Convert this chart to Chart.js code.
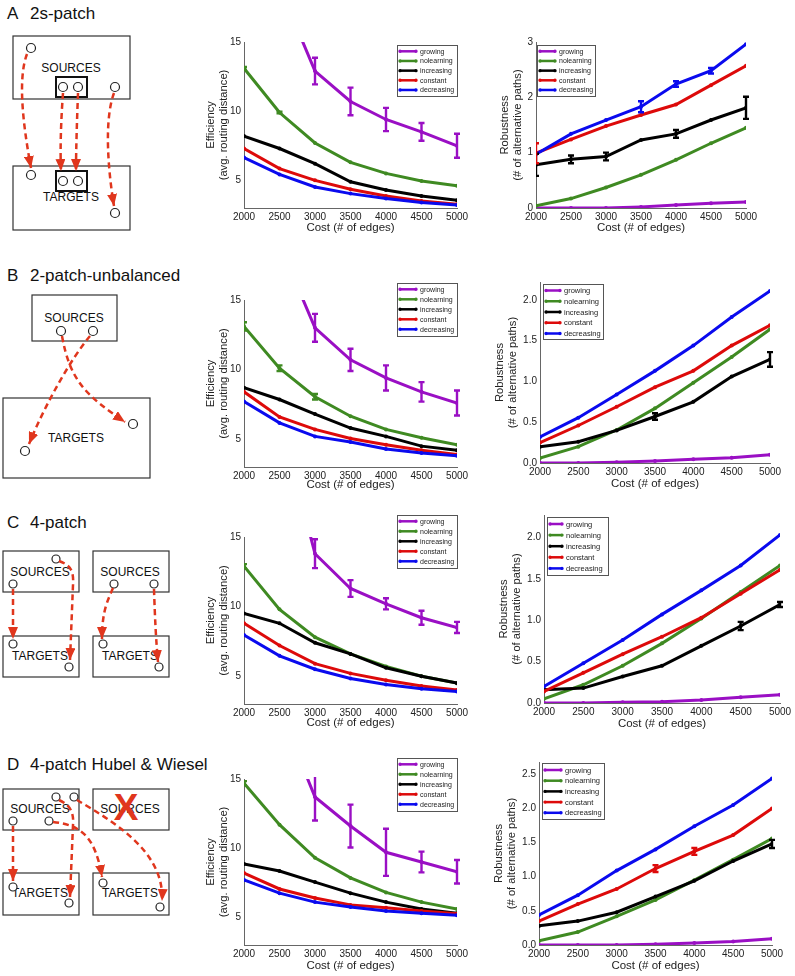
<!DOCTYPE html>
<html><head><meta charset="utf-8">
<script src="https://cdn.jsdelivr.net/npm/chart.js@4.4.1/dist/chart.umd.min.js"></script>
<style>
html,body{margin:0;padding:0;background:#fff;}
body{width:795px;height:976px;position:relative;overflow:hidden;font-family:"Liberation Sans",Arial,sans-serif;}
canvas{position:absolute;}
#diag{position:absolute;left:0;top:0;}
</style></head><body>
<svg id="diag" width="240" height="976" xmlns="http://www.w3.org/2000/svg" font-family="Liberation Sans, Arial, sans-serif">
<defs>
<marker id="ah" viewBox="0 0 12 10" refX="12" refY="5" markerWidth="12" markerHeight="10" markerUnits="userSpaceOnUse" orient="auto"><path d="M0,0 L12,5 L0,10 z" fill="#e0361d"/></marker>
</defs>
<g font-size="17" fill="#111"><text x="7" y="19">A</text><text x="30" y="19">2s-patch</text>
<text x="7" y="281">B</text><text x="30" y="281">2-patch-unbalanced</text>
<text x="7" y="528">C</text><text x="30" y="528">4-patch</text>
<text x="7" y="770">D</text><text x="30" y="770">4-patch Hubel &amp; Wiesel</text></g>
<g fill="none" stroke="#333" stroke-width="1.2">
<rect x="13" y="36" width="117" height="63"/><rect x="13" y="166" width="117" height="64"/>
<rect x="32" y="295" width="85" height="46"/><rect x="3" y="398" width="147" height="80"/>
<rect x="3" y="551" width="76" height="41"/><rect x="93" y="551" width="76" height="41"/>
<rect x="3" y="636" width="76" height="41"/><rect x="93" y="636" width="76" height="41"/>
<rect x="3" y="789" width="76" height="41"/><rect x="93" y="789" width="76" height="41"/>
<rect x="3" y="873" width="76" height="42"/><rect x="93" y="873" width="76" height="42"/>
</g>
<g fill="none" stroke="#111" stroke-width="2"><rect x="56" y="77" width="31" height="20"/><rect x="56" y="171" width="31" height="20"/></g>
<g font-size="12" fill="#111" text-anchor="middle">
<text x="71" y="72">SOURCES</text><text x="71" y="201">TARGETS</text>
<text x="74" y="322">SOURCES</text><text x="76" y="442">TARGETS</text>
<text x="40" y="576">SOURCES</text><text x="130" y="576">SOURCES</text>
<text x="40" y="660">TARGETS</text><text x="130" y="660">TARGETS</text>
<text x="40" y="813">SOURCES</text><text x="130" y="813">SOURCES</text>
<text x="40" y="897">TARGETS</text><text x="130" y="897">TARGETS</text>
</g>
<text x="126" y="820" font-size="37" font-weight="bold" fill="#e0361d" text-anchor="middle">X</text>
<g fill="#fff" stroke="#222" stroke-width="1.2">
<circle cx="31" cy="48" r="4.5"/><circle cx="63" cy="87" r="4.5"/><circle cx="78" cy="87" r="4.5"/><circle cx="115" cy="87" r="4.5"/>
<circle cx="31" cy="175" r="4.5"/><circle cx="63" cy="181" r="4.5"/><circle cx="78" cy="181" r="4.5"/><circle cx="115" cy="213" r="4.5"/>
<circle cx="61" cy="331" r="4.5"/><circle cx="93" cy="331" r="4.5"/><circle cx="25" cy="451" r="4.5"/><circle cx="133" cy="424" r="4.5"/>
<circle cx="56" cy="559" r="4"/><circle cx="13" cy="584" r="4"/><circle cx="13" cy="644" r="4"/><circle cx="69" cy="667" r="4"/>
<circle cx="114" cy="584" r="4"/><circle cx="154" cy="584" r="4"/><circle cx="103" cy="644" r="4"/><circle cx="159" cy="667" r="4"/>
<circle cx="56" cy="797" r="4"/><circle cx="74" cy="797" r="4"/><circle cx="13" cy="821" r="4"/><circle cx="49" cy="821" r="4"/>
<circle cx="13" cy="887" r="4"/><circle cx="69" cy="903" r="4"/><circle cx="103" cy="883" r="4"/><circle cx="160" cy="907" r="4"/>
</g>
<g fill="none" stroke="#e0361d" stroke-width="2.5" stroke-dasharray="6,4" marker-end="url(#ah)">
<path d="M27,54 C17,80 24,130 31,168"/><path d="M63,93 C61,120 60,150 61,171"/><path d="M78,93 C77,120 76,150 76,171"/><path d="M114,93 C104,120 108,170 114,206"/>
<path d="M62,336 C70,380 85,395 125,422"/><path d="M90,336 C70,360 45,405 29,444"/>
<path d="M13,589 L13,639"/><path d="M59,561 C70,565 74,570 73,585 L70,660"/><path d="M113,588 C108,600 102,610 102,639"/><path d="M154,589 C155,620 156,640 158,662"/>
<path d="M13,826 L13,881"/><path d="M59,800 C70,805 74,812 73,825 L70,897"/><path d="M53,822 C80,825 95,835 102,877"/><path d="M77,800 C110,820 165,850 162,901"/>
</g>
</svg>
<script>
// ---------------- data ----------------
const costs = [2000, 2500, 3000, 3500, 4000, 4500, 5000];
const seriesNames = ['growing', 'nolearning', 'increasing', 'constant', 'decreasing'];
const effTicks = [5, 10, 15];
const effTickLabels = ['5', '10', '15'];
const robTicksA = [0, 1, 2, 3];
const robTickLabelsA = ['0', '1', '2', '3'];
const robTicksBC = [0, 0.5, 1, 1.5, 2];
const robTickLabelsBC = ['0.0', '0.5', '1.0', '1.5', '2.0'];
const robTicksD = [0, 0.5, 1, 1.5, 2, 2.5];
const robTickLabelsD = ['0.0', '0.5', '1.0', '1.5', '2.0', '2.5'];

// rows: growing, nolearning, increasing, constant, decreasing
const effA = [
  [28, 19, 12.9, 10.7, 9.4, 8.5, 7.5],
  [13.1, 9.9, 7.7, 6.3, 5.5, 4.95, 4.6],
  [8.2, 7.3, 6.2, 4.9, 4.3, 3.87, 3.56],
  [7.3, 5.85, 5.0, 4.35, 3.87, 3.5, 3.27],
  [6.65, 5.43, 4.52, 4.04, 3.68, 3.4, 3.22]
];
const effA_err = [
  [0, 0, 0.96, 1.0, 0.84, 0.64, 0.87],
  [0.1, 0.06, 0, 0, 0, 0, 0],
  [0, 0, 0, 0, 0, 0, 0],
  [0, 0, 0, 0, 0, 0, 0],
  [0, 0, 0, 0, 0, 0, 0]
];
const robA = [
  [0, 0, 0, 0.02, 0.054, 0.085, 0.11],
  [0.04, 0.17, 0.37, 0.6, 0.87, 1.17, 1.45],
  [0.78, 0.88, 0.93, 1.23, 1.34, 1.59, 1.81],
  [0.99, 1.24, 1.48, 1.68, 1.87, 2.22, 2.57],
  [0.97, 1.34, 1.59, 1.83, 2.24, 2.48, 2.96]
];
const robA_err = [
  [0, 0, 0, 0, 0, 0, 0],
  [0, 0, 0, 0, 0, 0, 0],
  [0.2, 0.07, 0.07, 0, 0.07, 0, 0.2],
  [0.18, 0, 0, 0, 0, 0, 0],
  [0, 0, 0, 0.1, 0.05, 0.05, 0]
];
const effB = [
  [28, 19, 13.0, 10.7, 9.4, 8.4, 7.6],
  [13.1, 10.1, 8.05, 6.65, 5.7, 5.1, 4.6],
  [8.7, 7.85, 6.8, 5.8, 5.2, 4.5, 4.2],
  [8.4, 6.6, 5.7, 5.05, 4.6, 4.2, 3.9],
  [7.7, 6.17, 5.2, 4.8, 4.3, 4.0, 3.8]
];
const effB_err = [
  [0, 0, 1.0, 0.8, 0.9, 0.7, 0.9],
  [0.3, 0.2, 0.2, 0, 0, 0, 0],
  [0, 0, 0, 0, 0, 0, 0],
  [0, 0, 0, 0, 0, 0, 0],
  [0, 0, 0, 0, 0, 0, 0]
];
const robB = [
  [0, 0, 0.01, 0.025, 0.045, 0.065, 0.1],
  [0.06, 0.2, 0.405, 0.67, 0.985, 1.3, 1.64],
  [0.2, 0.26, 0.4, 0.57, 0.75, 1.06, 1.27],
  [0.25, 0.46, 0.69, 0.93, 1.13, 1.44, 1.69],
  [0.32, 0.556, 0.84, 1.13, 1.44, 1.79, 2.11]
];
const robB_err = [
  [0, 0, 0, 0, 0, 0, 0],
  [0, 0, 0, 0, 0, 0, 0],
  [0, 0, 0, 0.04, 0, 0, 0.09],
  [0, 0, 0, 0, 0, 0, 0],
  [0, 0, 0, 0, 0, 0, 0]
];
const effC = [
  [30, 23.6, 13.8, 11.3, 10.2, 9.2, 8.5],
  [12.9, 9.8, 7.8, 6.6, 5.7, 5.0, 4.5],
  [9.5, 8.8, 7.4, 6.6, 5.6, 5.0, 4.5],
  [8.8, 7.2, 5.9, 5.2, 4.7, 4.3, 4.0],
  [7.95, 6.46, 5.5, 4.83, 4.4, 4.1, 3.9]
];
const effC_err = [
  [0, 0, 1.04, 0.6, 0.4, 0.5, 0.4],
  [0.15, 0, 0, 0, 0, 0, 0],
  [0, 0, 0, 0, 0, 0, 0],
  [0, 0, 0, 0, 0, 0, 0],
  [0, 0, 0, 0, 0, 0, 0]
];
const robC = [
  [0, 0, 0.01, 0.016, 0.036, 0.07, 0.1],
  [0.05, 0.22, 0.45, 0.72, 1.02, 1.34, 1.66],
  [0.16, 0.18, 0.32, 0.45, 0.69, 0.93, 1.19],
  [0.14, 0.365, 0.59, 0.8, 1.03, 1.32, 1.61],
  [0.2, 0.48, 0.76, 1.07, 1.36, 1.66, 2.03]
];
const robC_err = [
  [0, 0, 0, 0, 0, 0, 0],
  [0, 0, 0, 0, 0, 0, 0],
  [0, 0, 0, 0, 0, 0.05, 0.03],
  [0, 0, 0, 0, 0, 0, 0],
  [0, 0, 0, 0, 0, 0, 0]
];
const effD = [
  [30, 20, 13.7, 11.6, 9.7, 9.0, 8.3],
  [14.7, 11.7, 9.3, 7.85, 6.8, 6.1, 5.6],
  [8.85, 8.35, 7.55, 6.75, 6.1, 5.6, 5.3],
  [8.2, 7.05, 6.4, 5.9, 5.7, 5.45, 5.25],
  [7.7, 6.75, 6.1, 5.75, 5.45, 5.3, 5.15]
];
const effD_err = [
  [0, 0, 1.7, 1.55, 1.7, 0.75, 0.85],
  [0.15, 0, 0, 0, 0, 0, 0],
  [0, 0, 0, 0, 0, 0, 0],
  [0, 0, 0, 0, 0, 0, 0],
  [0, 0, 0, 0, 0, 0, 0]
];
const robD = [
  [0, 0, 0, 0.01, 0.03, 0.05, 0.09],
  [0.06, 0.19, 0.42, 0.66, 0.95, 1.25, 1.56],
  [0.28, 0.35, 0.48, 0.71, 0.94, 1.23, 1.48],
  [0.35, 0.6, 0.82, 1.12, 1.37, 1.61, 2.0],
  [0.44, 0.73, 1.09, 1.4, 1.74, 2.05, 2.44]
];
const robD_err = [
  [0, 0, 0, 0, 0, 0, 0],
  [0, 0, 0, 0, 0, 0, 0],
  [0, 0, 0, 0, 0, 0, 0.06],
  [0, 0, 0, 0.05, 0.05, 0, 0],
  [0, 0, 0, 0, 0, 0, 0]
];

// ---------------- styles / layout ----------------
const seriesColors = ['#9a0fc4', '#3f8a22', '#000000', '#dd0a0a', '#0a0aee'];
const FONT = '"Liberation Sans", Arial, sans-serif';
const WY = 100, HX = 40, PT = 26, PR = 30;
const effTitle = ['Efficiency', '(avg. routing distance)'];
const robTitle = ['Robustness', '(# of alternative paths)'];

const panels = [
  {vals: effA, errs: effA_err, g: {l: 244, r: 457, t: 42, b: 208}, y: [3, 15], ticks: effTicks, labels: effTickLabels, title: effTitle, titleX: 211, xTitleY: 227.5,
   leg: {x: 397, y: 45, w: 60, h: 51, row0: 6.3, dy: 9.67, fs: 7, tx: 23}},
  {vals: robA, errs: robA_err, g: {l: 536, r: 746, t: 42, b: 208}, y: [0, 3], ticks: robTicksA, labels: robTickLabelsA, title: robTitle, titleX: 505, xTitleY: 227.5,
   leg: {x: 537, y: 45, w: 58, h: 51, row0: 6.3, dy: 9.67, fs: 7, tx: 22}},
  {vals: effB, errs: effB_err, g: {l: 244, r: 457, t: 300, b: 467}, y: [3, 15], ticks: effTicks, labels: effTickLabels, title: effTitle, titleX: 211, xTitleY: 485,
   leg: {x: 397, y: 283, w: 60, h: 53, row0: 6.3, dy: 10, fs: 7, tx: 23}},
  {vals: robB, errs: robB_err, g: {l: 540, r: 770, t: 282, b: 463}, y: [0, 2.22], ticks: robTicksBC, labels: robTickLabelsBC, title: robTitle, titleX: 500, xTitleY: 484,
   leg: {x: 543, y: 284, w: 60, h: 55, row0: 6.5, dy: 10.75, fs: 7.5, tx: 21}},
  {vals: effC, errs: effC_err, g: {l: 244, r: 457, t: 537, b: 704}, y: [3, 15], ticks: effTicks, labels: effTickLabels, title: effTitle, titleX: 211, xTitleY: 723,
   leg: {x: 397, y: 515, w: 60, h: 53, row0: 6.3, dy: 10, fs: 7, tx: 23}},
  {vals: robC, errs: robC_err, g: {l: 544, r: 780, t: 515, b: 703}, y: [0, 2.27], ticks: robTicksBC, labels: robTickLabelsBC, title: robTitle, titleX: 504, xTitleY: 724,
   leg: {x: 547, y: 517, w: 61, h: 58, row0: 7, dy: 11.1, fs: 7.5, tx: 19}},
  {vals: effD, errs: effD_err, g: {l: 244, r: 457, t: 779, b: 945}, y: [3, 15], ticks: effTicks, labels: effTickLabels, title: effTitle, titleX: 211, xTitleY: 966,
   leg: {x: 397, y: 758, w: 60, h: 53, row0: 6.3, dy: 10, fs: 7, tx: 23}},
  {vals: robD, errs: robD_err, g: {l: 539, r: 772, t: 762, b: 945}, y: [0, 2.68], ticks: robTicksD, labels: robTickLabelsD, title: robTitle, titleX: 499, xTitleY: 966,
   leg: {x: 542, y: 763, w: 62, h: 56, row0: 7, dy: 10.7, fs: 7.5, tx: 23}}
];

// ---------------- plugins ----------------
const errorBarPlugin = {
  id: 'errorBars',
  afterDatasetsDraw(chart) {
    const ctx = chart.ctx, xs = chart.scales.x, ys = chart.scales.y, a = chart.chartArea;
    ctx.save();
    ctx.beginPath(); ctx.rect(a.left, a.top - 2, a.right - a.left + 4, a.bottom - a.top + 4); ctx.clip();
    chart.data.datasets.forEach(ds => {
      if (!ds.errors) return;
      ctx.strokeStyle = ds.borderColor; ctx.lineWidth = 2.4;
      ds.data.forEach((p, i) => {
        const e = ds.errors[i]; if (!e) return;
        const x = xs.getPixelForValue(p.x);
        const y1 = ys.getPixelForValue(p.y - e), y2 = ys.getPixelForValue(p.y + e);
        ctx.beginPath();
        ctx.moveTo(x, y1); ctx.lineTo(x, y2);
        ctx.moveTo(x - 3, y1); ctx.lineTo(x + 3, y1);
        ctx.moveTo(x - 3, y2); ctx.lineTo(x + 3, y2);
        ctx.stroke();
      });
    });
    ctx.restore();
  }
};
const boxLegendPlugin = {
  id: 'boxLegend',
  afterDraw(chart, args, o) {
    if (!o || o.w === undefined) return;
    const ctx = chart.ctx;
    const x0 = o.x - o.ox, y0 = o.y - o.oy;
    ctx.save();
    ctx.fillStyle = '#fff'; ctx.fillRect(x0, y0, o.w, o.h);
    ctx.strokeStyle = '#555'; ctx.lineWidth = 1; ctx.strokeRect(Math.round(x0) + 0.5, Math.round(y0) + 0.5, o.w, o.h);
    ctx.font = o.fs + 'px ' + FONT; ctx.textBaseline = 'middle'; ctx.textAlign = 'left';
    chart.data.datasets.forEach((ds, i) => {
      const y = y0 + o.row0 + i * o.dy;
      const lx1 = o.tx - 4;
      ctx.strokeStyle = ds.borderColor; ctx.lineWidth = 2.5;
      ctx.beginPath(); ctx.moveTo(x0 + 3, y); ctx.lineTo(x0 + lx1, y); ctx.stroke();
      ctx.fillStyle = ds.borderColor;
      ctx.beginPath(); ctx.arc(x0 + 3, y, 1.7, 0, Math.PI * 2); ctx.arc(x0 + lx1, y, 1.7, 0, Math.PI * 2); ctx.fill();
      ctx.fillStyle = '#222';
      ctx.fillText(ds.label, x0 + o.tx, y + 0.5);
    });
    ctx.restore();
  }
};

// ---------------- build charts ----------------
panels.forEach(p => {
  const cw = (p.g.r - p.g.l) + WY + PR;
  const ch = (p.g.b - p.g.t) + PT + HX;
  const ox = p.g.l - WY, oy = p.g.t - PT;
  const cv = document.createElement('canvas');
  cv.width = cw; cv.height = ch;
  cv.style.left = ox + 'px'; cv.style.top = oy + 'px';
  cv.style.width = cw + 'px'; cv.style.height = ch + 'px';
  document.body.appendChild(cv);
  const titleFs = 11.2, titleLh = titleFs * 1.15;
  const datasets = seriesNames.map((name, si) => ({
    label: name,
    data: costs.map((c, i) => ({x: c, y: p.vals[si][i]})),
    errors: p.errs[si],
    borderColor: seriesColors[si],
    backgroundColor: seriesColors[si],
    pointBackgroundColor: seriesColors[si],
    pointBorderColor: seriesColors[si],
    borderWidth: 3,
    pointRadius: 2,
    pointBorderWidth: 0,
    tension: 0,
    order: 5 - si
  }));
  new Chart(cv, {
    type: 'line',
    data: {datasets},
    plugins: [errorBarPlugin, boxLegendPlugin],
    options: {
      responsive: false, animation: false, devicePixelRatio: 1,
      layout: {padding: {left: 0, top: PT, right: PR, bottom: 0}},
      plugins: {
        legend: {display: false}, tooltip: {enabled: false},
        boxLegend: Object.assign({ox, oy}, p.leg)
      },
      scales: {
        x: {
          type: 'linear', min: 2000, max: 5000,
          afterBuildTicks: s => { s.ticks = costs.map(v => ({value: v})); },
          afterFit: s => { s.height = HX; },
          grid: {display: false, drawTicks: false},
          border: {display: true, color: '#666', width: 1},
          ticks: {padding: 3, color: '#222', font: {size: 10, family: FONT}, callback: v => String(v), maxRotation: 0, autoSkip: false},
          title: {display: true, text: 'Cost (# of edges)', color: '#222', font: {size: 11.5, family: FONT, lineHeight: 1.2},
                  padding: {top: 0, bottom: (p.g.b + HX) - p.xTitleY - 6.9}}
        },
        y: {
          type: 'linear', min: p.y[0], max: p.y[1],
          afterBuildTicks: s => { s.ticks = p.ticks.map(v => ({value: v})); },
          afterFit: s => { s.width = WY; },
          grid: {display: false, drawTicks: false},
          border: {display: true, color: '#666', width: 1},
          ticks: {padding: 3, color: '#222', font: {size: 10, family: FONT}, callback: (v, i) => p.labels[i]},
          title: {display: true, text: p.title, color: '#222', font: {size: titleFs, family: FONT, lineHeight: 1.15},
                  padding: {top: p.titleX - ox - titleLh / 2, bottom: 0}}
        }
      }
    }
  });
});
</script>
</body></html>
